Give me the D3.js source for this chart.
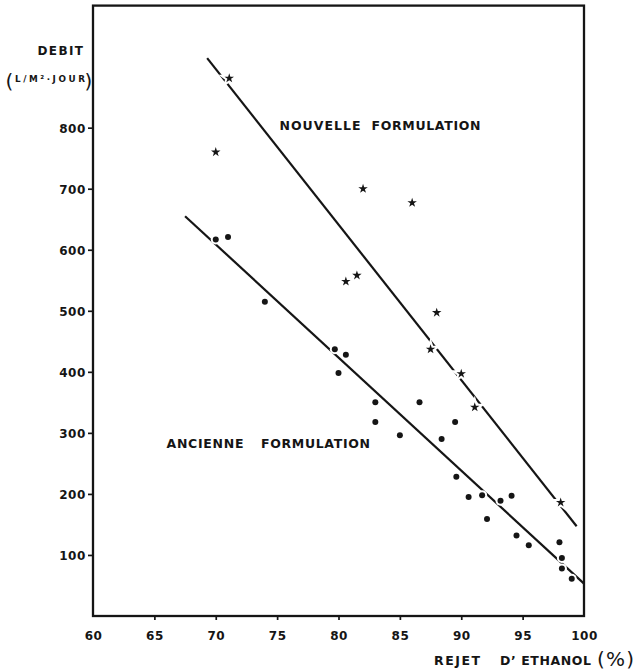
<!DOCTYPE html>
<html>
<head>
<meta charset="utf-8">
<script src="https://cdn.jsdelivr.net/npm/d3@7"></script>
<style>
  html, body { margin: 0; padding: 0; background: #fff; }
  svg { display: block; }
  text { font-family: "DejaVu Sans", sans-serif; fill: #151515; }
</style>
</head>
<body>
<script>
// ---- data ----
const xTicks = [60, 65, 70, 75, 80, 85, 90, 95, 100];
const yTicks = [100, 200, 300, 400, 500, 600, 700, 800];

// "Nouvelle formulation" (stars)
const nouvelleX = [71.1, 70.0, 82.0, 86.0, 81.5, 80.6, 88.0, 87.5, 90.0, 91.1, 98.1];
const nouvelleY = [881, 760, 700, 677, 558, 548, 497, 437, 397, 342, 186];

// "Ancienne formulation" (dots)
const ancienneX = [70.0, 71.0, 74.0, 79.7, 80.6, 80.0, 83.0, 83.0, 85.0, 86.6, 88.4, 89.5,
                   89.6, 90.6, 91.7, 92.1, 93.2, 94.1, 94.5, 95.5, 98.0, 98.2, 98.2, 99.0];
const ancienneY = [617, 621, 515, 437, 428, 398, 350, 318, 296, 350, 290, 318,
                   228, 195, 198, 159, 189, 197, 132, 116, 121, 95, 78, 61];

// fitted straight lines (end points)
const fitNouvelleX = [69.3, 99.4];
const fitNouvelleY = [914, 147];
const fitAncienneX = [67.5, 100.0];
const fitAncienneY = [655, 53];

// ---- drawing ----
const W = 636, H = 670;
const ink = "#151515";
const svg = d3.select("body").append("svg").attr("width", W).attr("height", H);

const x = d3.scaleLinear().domain([60, 100]).range([93, 584]);
const y = d3.scaleLinear().domain([0, 1000]).range([616, 5.6]);

// frame
svg.append("rect")
  .attr("x", x(60)).attr("y", y(1000))
  .attr("width", x(100) - x(60)).attr("height", y(0) - y(1000))
  .attr("fill", "none").attr("stroke", ink).attr("stroke-width", 2.3);

// y axis
const yAxis = svg.append("g").attr("transform", `translate(${x(60)},0)`)
  .call(d3.axisLeft(y).tickValues(yTicks).tickSize(5).tickPadding(3));
yAxis.select(".domain").remove();
yAxis.selectAll(".tick line").attr("stroke", ink).attr("stroke-width", 1.7);
yAxis.selectAll(".tick text")
  .attr("x", -7).attr("dy", "0.36em")
  .style("font-size", "12px").style("font-weight", "bold")
  .style("letter-spacing", "0.6px").attr("fill", ink);

// x axis
const xAxis = svg.append("g").attr("transform", `translate(0,${y(0)})`)
  .call(d3.axisBottom(x).tickValues(xTicks).tickSize(4).tickPadding(3));
xAxis.select(".domain").remove();
xAxis.selectAll(".tick line").attr("stroke", ink).attr("stroke-width", 1.7)
  .attr("display", d => (d === 60 || d === 100) ? "none" : null);
xAxis.selectAll(".tick text")
  .attr("y", 23.5).attr("dy", "0")
  .style("font-size", "12px").style("font-weight", "bold")
  .style("letter-spacing", "0.5px").attr("fill", ink);

// fit lines
const line = d3.line().x(d => x(d[0])).y(d => y(d[1]));
const fits = [
  d3.zip(fitNouvelleX, fitNouvelleY),
  d3.zip(fitAncienneX, fitAncienneY)
];
svg.append("g").selectAll("path").data(fits).join("path")
  .attr("d", line).attr("fill", "none").attr("stroke", ink)
  .attr("stroke-width", 2.2).attr("stroke-linecap", "butt");

// markers (with white halo, which breaks the lines as in the drawing)
const stars = d3.zip(nouvelleX, nouvelleY);
const dots = d3.zip(ancienneX, ancienneY);
const starSym = d3.symbol().type(d3.symbolStar).size(28);

const gS = svg.append("g");
gS.selectAll("path.halo").data(stars).join("path").attr("class", "halo")
  .attr("d", starSym).attr("transform", d => `translate(${x(d[0])},${y(d[1])})`)
  .attr("fill", "#fff").attr("stroke", "#fff").attr("stroke-width", 4);
gS.selectAll("path.mk").data(stars).join("path").attr("class", "mk")
  .attr("d", starSym).attr("transform", d => `translate(${x(d[0])},${y(d[1])})`)
  .attr("fill", ink);

const gD = svg.append("g");
gD.selectAll("circle.halo").data(dots).join("circle").attr("class", "halo")
  .attr("cx", d => x(d[0])).attr("cy", d => y(d[1])).attr("r", 5).attr("fill", "#fff");
gD.selectAll("circle.mk").data(dots).join("circle").attr("class", "mk")
  .attr("cx", d => x(d[0])).attr("cy", d => y(d[1])).attr("r", 3).attr("fill", ink);

// text helper
function label(px, py, str, len, size, weight) {
  const t = svg.append("text").attr("x", px).attr("y", py)
    .style("font-size", size + "px").style("font-weight", weight || "bold")
    .text(str);
  if (len) t.attr("textLength", len).attr("lengthAdjust", "spacing");
  return t;
}

// series labels
label(279.5, 129.5, "NOUVELLE", 81, 12.5);
label(371.5, 129.5, "FORMULATION", 109, 12.5);
label(166.5, 447.5, "ANCIENNE", 77, 12.5);
label(261, 447.5, "FORMULATION", 109, 12.5);

// y title
label(37.5, 55, "DEBIT", 45.5, 12);
label(5.5, 88, "(", null, 20, "normal");
label(15, 82, "L/M²·JOUR", 70, 8.8);
label(84.5, 88, ")", null, 20, "normal");

// x title
label(434, 664.5, "REJET", 46, 12.5);
label(500, 664.5, "D’ ETHANOL", 91, 12.5);
label(597, 666, "(%)", 37, 20, "normal");
</script>
</body>
</html>
